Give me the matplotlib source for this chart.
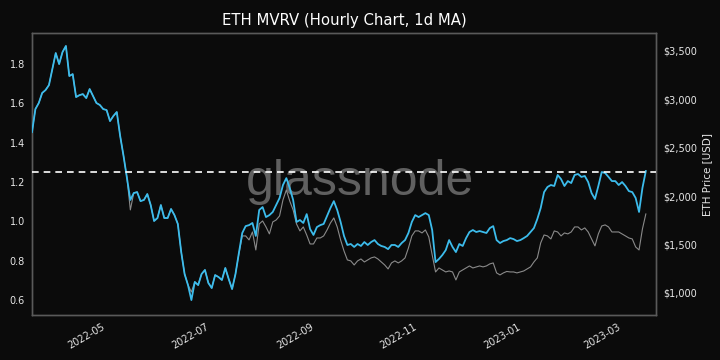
import matplotlib
matplotlib.use("Agg")
import matplotlib.pyplot as plt
import matplotlib.dates as mdates
import matplotlib.ticker as mticker
import pandas as pd

# 2-day samples starting 2022-03-18
start_date = "2022-03-18"
n_points = 182

mvrv = [1.454, 1.571, 1.602, 1.653, 1.668, 1.693, 1.775, 1.856, 1.800, 1.861,
        1.892, 1.739, 1.749, 1.632, 1.642, 1.647, 1.627, 1.673, 1.637, 1.602,
        1.592, 1.571, 1.566, 1.510, 1.536, 1.556, 1.434, 1.332, 1.220, 1.109,
        1.144, 1.149, 1.103, 1.109, 1.139, 1.083, 1.002, 1.017, 1.083, 1.017,
        1.017, 1.063, 1.032, 0.987, 0.844, 0.732, 0.676, 0.600, 0.692, 0.676,
        0.732, 0.753, 0.687, 0.661, 0.727, 0.717, 0.702, 0.763, 0.707, 0.656,
        0.732, 0.839, 0.941, 0.976, 0.981, 0.992, 0.926, 1.058, 1.073, 1.022,
        1.032, 1.048, 1.083, 1.119, 1.185, 1.220, 1.170, 1.109, 0.997, 1.007,
        0.992, 1.037, 0.961, 0.931, 0.971, 0.981, 0.987, 1.027, 1.068, 1.103,
        1.058, 0.997, 0.926, 0.880, 0.885, 0.870, 0.885, 0.875, 0.895, 0.880,
        0.895, 0.905, 0.885, 0.875, 0.870, 0.859, 0.880, 0.880, 0.870, 0.890,
        0.905, 0.941, 0.997, 1.032, 1.022, 1.032, 1.042, 1.032, 0.956, 0.793,
        0.809, 0.829, 0.854, 0.905, 0.870, 0.844, 0.885, 0.875, 0.915, 0.946,
        0.956, 0.946, 0.951, 0.946, 0.941, 0.966, 0.976, 0.905, 0.890, 0.900,
        0.905, 0.915, 0.910, 0.900, 0.905, 0.915, 0.926, 0.946, 0.966, 1.012,
        1.068, 1.149, 1.175, 1.185, 1.180, 1.236, 1.215, 1.180, 1.205, 1.195,
        1.236, 1.241, 1.226, 1.231, 1.200, 1.144, 1.114, 1.180, 1.251, 1.246,
        1.226, 1.205, 1.205, 1.185, 1.200, 1.180, 1.154, 1.149, 1.119, 1.048,
        1.170, 1.256]

price = [2663, 2901, 2963, 3066, 3097, 3149, 3314, 3479, 3366, 3490,
         3552, 3242, 3262, 3025, 3045, 3056, 3014, 3107, 3035, 2963,
         2942, 2901, 2891, 2777, 2829, 2870, 2622, 2415, 2188, 1858,
         2033, 2043, 1950, 1961, 2023, 1909, 1744, 1775, 1909, 1775,
         1775, 1868, 1806, 1713, 1424, 1196, 1083, 1010, 1114, 1083,
         1196, 1238, 1103, 1052, 1186, 1165, 1134, 1258, 1145, 1041,
         1196, 1403, 1589, 1589, 1548, 1630, 1444, 1713, 1744, 1682,
         1610, 1734, 1754, 1796, 1961, 2064, 1950, 1858, 1713, 1641,
         1682, 1599, 1506, 1506, 1568, 1568, 1589, 1651, 1723, 1775,
         1682, 1548, 1434, 1341, 1331, 1289, 1331, 1351, 1320, 1341,
         1362, 1372, 1351, 1320, 1289, 1248, 1310, 1331, 1310, 1331,
         1362, 1465, 1589, 1641, 1641, 1620, 1651, 1579, 1393, 1217,
         1258, 1238, 1217, 1227, 1217, 1134, 1217, 1238, 1258, 1279,
         1258, 1269, 1279, 1269, 1279, 1300, 1310, 1207, 1186, 1207,
         1222, 1217, 1217, 1207, 1217, 1227, 1248, 1269, 1320, 1362,
         1517, 1599, 1589, 1558, 1641, 1630, 1589, 1620, 1610, 1630,
         1682, 1682, 1651, 1672, 1630, 1558, 1486, 1610, 1692, 1703,
         1682, 1630, 1630, 1630, 1610, 1589, 1568, 1558, 1475, 1444,
         1661, 1816]

threshold = 1.25
title = "ETH MVRV (Hourly Chart, 1d MA)"
right_label = "ETH Price [USD]"

dates = pd.date_range(start_date, periods=n_points, freq="2D")

BG = "#0b0b0b"
TXT = "#e6e6e6"
fig = plt.figure(figsize=(7.2, 3.6), dpi=100, facecolor=BG)
ax1 = fig.add_axes([32/720, 1-315/360, (656-32)/720, (315-33)/360])
ax2 = ax1.twinx()
ax1.set_zorder(ax2.get_zorder() + 1)
ax1.patch.set_visible(False)
ax2.set_facecolor("#0d0d0d")

ax2.text(0.525, 0.47, "glassnode", transform=ax2.transAxes, ha="center", va="center",
         fontsize=36, color="#606060", family="Liberation Sans", zorder=0)

ax2.plot(dates, price, color="#8a8a8a", lw=0.8, zorder=2)
ax1.plot(dates, mvrv, color="#3cbcec", lw=1.3, zorder=3)
ax1.axhline(threshold, color="white", lw=1.2, ls=(0, (4, 3)), zorder=4)

ax1.set_xlim(pd.Timestamp("2022-03-18"), pd.Timestamp("2023-03-21"))
ax1.set_ylim(0.524, 1.958)
ax2.set_ylim(772, 3686)

ax1.set_yticks([0.6, 0.8, 1.0, 1.2, 1.4, 1.6, 1.8])
ax1.yaxis.set_major_formatter(mticker.FormatStrFormatter("%.1f"))
ax2.set_yticks([1000, 1500, 2000, 2500, 3000, 3500])
ax2.yaxis.set_major_formatter(mticker.FuncFormatter(lambda v, p: f"${v:,.0f}"))

ax1.xaxis.set_major_locator(mdates.MonthLocator(bymonth=[1, 3, 5, 7, 9, 11]))
ax1.xaxis.set_major_formatter(mdates.DateFormatter("%Y-%m"))
for lab in ax1.get_xticklabels():
    lab.set_rotation(30)
    lab.set_ha("right")

for ax in (ax1, ax2):
    ax.tick_params(colors=TXT, labelsize=7, length=0, pad=5)
    for s in ax.spines.values():
        s.set_color("#5a5a5a")
        s.set_linewidth(1.0)

ax2.set_ylabel(right_label, color=TXT, fontsize=7.5, labelpad=4)
fig.suptitle(title, color="white", fontsize=10.7, x=344/720, y=1-20/360, va="center")

fig.savefig("out.png", dpi=100, facecolor=BG)
